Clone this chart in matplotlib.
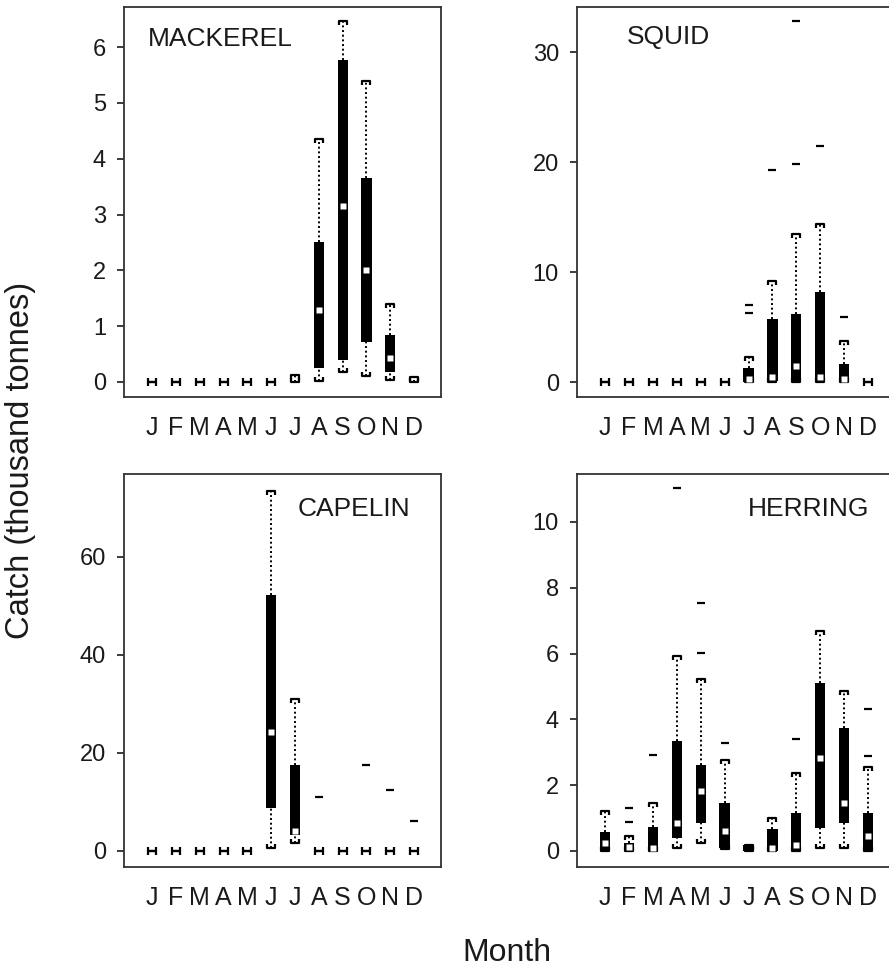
import numpy as np
import matplotlib
matplotlib.use("Agg")
import matplotlib.pyplot as plt
from matplotlib.path import Path

plt.rcParams['font.family'] = ['Liberation Sans', 'DejaVu Sans']

# DATA ###########################################################
months = ["J", "F", "M", "A", "M", "J", "J", "A", "S", "O", "N", "D"]

# mackerel (thousand tonnes)
mack_lo = [0, 0, 0, 0, 0, 0, 0, 0.02, 0.18, 0.10, 0.04, 0]
mack_q1 = [0, 0, 0, 0, 0, 0, 0, 0.25, 0.39, 0.71, 0.18, 0]
mack_med = [0, 0, 0, 0, 0, 0, 0, 1.29, 3.15, 2.00, 0.43, 0]
mack_q3 = [0, 0, 0, 0, 0, 0, 0, 2.51, 5.77, 3.65, 0.84, 0]
mack_hi = [0, 0, 0, 0, 0, 0, 0.12, 4.35, 6.46, 5.39, 1.40, 0.08]
mack_out = [[], [], [], [], [], [], [], [], [], [], [], []]

# squid
squid_lo = [0, 0, 0, 0, 0, 0, 0, 0, 0, 0, 0, 0]
squid_q1 = [0, 0, 0, 0, 0, 0, 0, 0.05, 0, 0, 0, 0]
squid_med = [0, 0, 0, 0, 0, 0, 0.25, 0.5, 1.45, 0.5, 0.3, 0]
squid_q3 = [0, 0, 0, 0, 0, 0, 1.27, 5.7, 6.2, 8.2, 1.6, 0]
squid_hi = [0, 0, 0, 0, 0, 0, 2.3, 9.2, 13.5, 14.4, 3.7, 0]
squid_out = [[], [], [], [], [], [], [6.3, 7.0], [19.3], [19.8, 32.8], [21.5], [5.9], []]

# capelin
cap_lo = [0, 0, 0, 0, 0, 0.6, 1.7, 0, 0, 0, 0, 0]
cap_q1 = [0, 0, 0, 0, 0, 8.8, 3.3, 0, 0, 0, 0, 0]
cap_med = [0, 0, 0, 0, 0, 24.3, 4.1, 0, 0, 0, 0, 0]
cap_q3 = [0, 0, 0, 0, 0, 52.2, 17.6, 0, 0, 0, 0, 0]
cap_hi = [0, 0, 0, 0, 0, 73.5, 31.0, 0, 0, 0, 0, 0]
cap_out = [[], [], [], [], [], [], [], [11.0], [], [17.6], [12.4], [6.1]]

# herring
her_lo = [0, 0, 0, 0.08, 0.25, 0.05, 0, 0, 0, 0.08, 0.08, 0]
her_q1 = [0, 0, 0, 0.4, 0.86, 0.1, 0, 0, 0, 0.69, 0.84, 0]
her_med = [0.25, 0.13, 0.08, 0.84, 1.82, 0.59, np.nan, 0.08, 0.18, 2.82, 1.45, 0.45]
her_q3 = [0.58, 0.24, 0.73, 3.35, 2.6, 1.45, 0.18, 0.66, 1.15, 5.1, 3.75, 1.15]
her_hi = [1.2, 0.44, 1.45, 5.93, 5.22, 2.77, 0.18, 0.99, 2.38, 6.69, 4.87, 2.56]
her_out = [[], [0.89, 1.3], [2.9], [11.02], [6.03, 7.55], [3.29], [], [], [3.39], [], [], [2.89, 4.31]]


# cap markers: bracket shapes with ticks pointing to the box
capTop = Path([(-1, -1.1), (-1, 0), (1, 0), (1, -1.1)],
              [Path.MOVETO, Path.LINETO, Path.LINETO, Path.LINETO])
capBot = Path([(-1, 1.1), (-1, 0), (1, 0), (1, 1.1)],
              [Path.MOVETO, Path.LINETO, Path.LINETO, Path.LINETO])


def boxpanel(ax, name, lo, q1, med, q3, hi, out, yticks, ylim, namepos):
    x = np.arange(1, 13)
    lo = np.array(lo); q1 = np.array(q1); med = np.array(med)
    q3 = np.array(q3); hi = np.array(hi)
    # whiskers
    ax.vlines(x, q3, hi, colors="black", lw=1.4, linestyles=(0, (1, 1.4)), zorder=1)
    ax.vlines(x, lo, q1, colors="black", lw=1.4, linestyles=(0, (1, 1.4)), zorder=1)
    ax.plot(x, hi, ls="none", marker=capTop, ms=6.2, mew=1.6, mec="black", mfc="none", zorder=2)
    ax.plot(x, lo, ls="none", marker=capBot, ms=6.2, mew=1.6, mec="black", mfc="none", zorder=2)
    # boxes
    ax.bar(x, q3 - q1, bottom=q1, width=0.43, color="black", zorder=3)
    # medians only where there is a box
    m = (q3 > q1) & ~np.isnan(med)
    ax.plot(x[m], med[m], ls="none", marker="s", ms=5.0, mfc="white", mec="none", zorder=4)
    # outliers
    for i, vals in enumerate(out):
        if vals:
            ax.plot([x[i]] * len(vals), vals, ls="none", marker="_", ms=5.5, mew=1.6,
                    color="black", zorder=4)
    ax.set_xlim(-0.18, 13.13)
    ax.set_ylim(*ylim)
    ax.set_yticks(yticks)
    ax.set_xticks(x)
    ax.set_xticklabels(months)
    ax.tick_params(axis="x", length=0, pad=14, labelsize=18, colors="#1a1a1a")
    ax.tick_params(axis="y", length=5, width=1.2, pad=8, labelsize=17, colors="#1a1a1a")
    for s in ax.spines.values():
        s.set_linewidth(1.3)
        s.set_color("#333333")
    ax.text(namepos[0], namepos[1], name, transform=ax.transAxes, fontsize=19,
            color="#1a1a1a", ha="left", va="center")


fig = plt.figure(figsize=(8.89, 9.69), dpi=100)
axTL = fig.add_axes([0.1395, 0.5903, 0.3566, 0.4025])
axTR = fig.add_axes([0.6490, 0.5903, 0.3577, 0.4025])
axBL = fig.add_axes([0.1395, 0.1053, 0.3566, 0.4056])
axBR = fig.add_axes([0.6490, 0.1053, 0.3577, 0.4056])

boxpanel(axTL, "MACKEREL", mack_lo, mack_q1, mack_med, mack_q3, mack_hi, mack_out,
         [0, 1, 2, 3, 4, 5, 6], (-0.27, 6.72), (0.076, 0.918))
boxpanel(axTR, "SQUID", squid_lo, squid_q1, squid_med, squid_q3, squid_hi, squid_out,
         [0, 10, 20, 30], (-1.36, 34.1), (0.157, 0.922))
boxpanel(axBL, "CAPELIN", cap_lo, cap_q1, cap_med, cap_q3, cap_hi, cap_out,
         [0, 20, 40, 60], (-3.27, 76.9), (0.549, 0.912))
boxpanel(axBR, "HERRING", her_lo, her_q1, her_med, her_q3, her_hi, her_out,
         [0, 2, 4, 6, 8, 10], (-0.49, 11.46), (0.538, 0.912))

fig.text(21 / 889, 1 - 460 / 969, "Catch (thousand tonnes)", rotation=90,
         fontsize=23.5, color="#1a1a1a", ha="center", va="center")
fig.text(507 / 889, 1 - 953 / 969, "Month", fontsize=23,
         color="#1a1a1a", ha="center", va="center")

fig.savefig("out.png", dpi=100)
